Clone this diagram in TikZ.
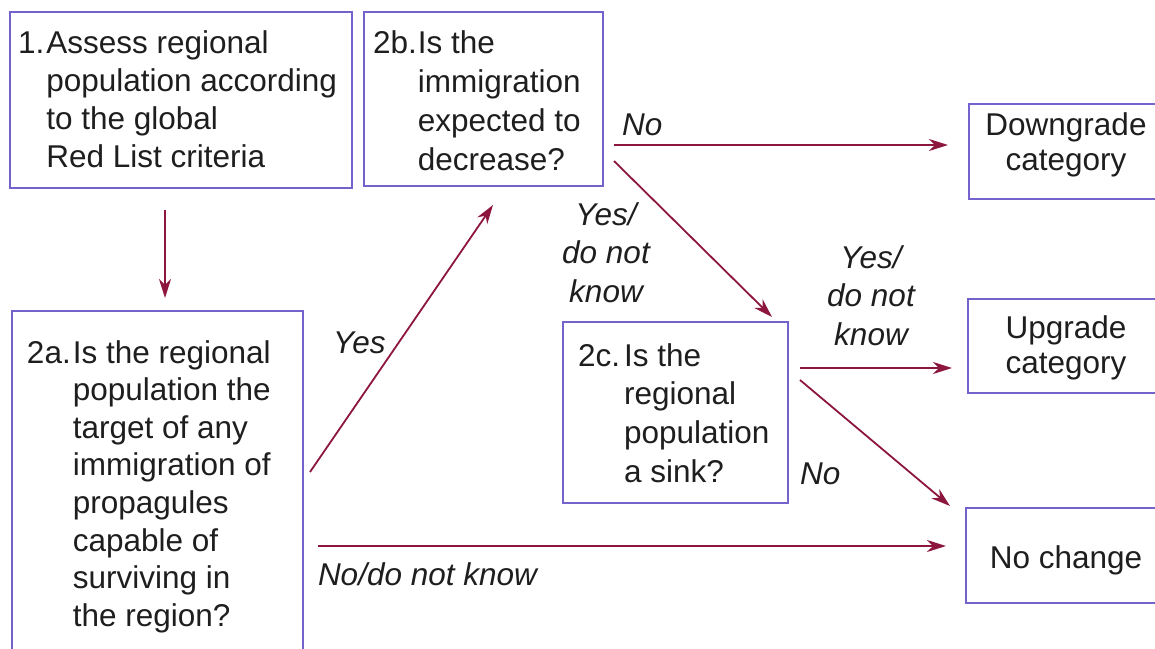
\documentclass[tikz,border=0pt]{standalone}
\usepackage{fontspec}
\setmainfont{Liberation Sans}
\usetikzlibrary{arrows.meta,calc}
\definecolor{boxc}{RGB}{118,98,205}
\definecolor{arrc}{RGB}{140,22,62}
\definecolor{txtc}{RGB}{30,30,30}
\tikzset{
  boxn/.style={draw=boxc, line width=2.2pt, inner sep=0pt, outer sep=0pt, anchor=north west},
  arr/.style={draw=arrc, line width=1.8pt, -{Stealth[length=19pt,width=12pt,inset=6pt]}},
  txt/.style={inner sep=0pt, outer sep=0pt, text=txtc},
  lbl/.style={inner sep=0pt, outer sep=0pt, text=txtc, font=\fontsize{31.5pt}{38.5pt}\selectfont\itshape}
}
\begin{document}
\begin{tikzpicture}[x=1pt,y=-1pt]
\useasboundingbox (0,0) rectangle (1155,648);
\clip (0,0) rectangle (1155,648);
% boxes
\node[boxn, minimum width=342pt, minimum height=176pt] (b1) at (10,12) {};
\node[boxn, minimum width=239pt, minimum height=174pt] (b2b) at (364,12) {};
\node[boxn, minimum width=291pt, minimum height=360pt] (b2a) at (12,311) {};
\node[boxn, minimum width=225pt, minimum height=181pt] (b2c) at (563,322) {};
\node[boxn, minimum width=194pt, minimum height=95pt] (bdown) at (969,104) {};
\node[boxn, minimum width=195pt, minimum height=94pt] (bup) at (968,299) {};
\node[boxn, minimum width=197pt, minimum height=95pt] (bno) at (966,508) {};
% box texts
\node[txt, anchor=base west, font=\fontsize{31.5pt}{38pt}\selectfont] (t1) at (18,53)
  {\begin{tabular}[t]{@{}l@{\hspace{2pt}}l@{}}1.&Assess regional\\ &population according\\ &to the global\\ &Red List criteria\end{tabular}};
\node[txt, anchor=base west, font=\fontsize{31.5pt}{39pt}\selectfont] (t2b) at (373,53)
  {\begin{tabular}[t]{@{}l@{\hspace{1pt}}l@{}}2b.&Is the\\ &immigration\\ &expected to\\ &decrease?\end{tabular}};
\node[txt, anchor=base west, font=\fontsize{31.5pt}{37.6pt}\selectfont] (t2a) at (27,363)
  {\begin{tabular}[t]{@{}l@{\hspace{2pt}}l@{}}2a.&Is the regional\\ &population the\\ &target of any\\ &immigration of\\ &propagules\\ &capable of\\ &surviving in\\ &the region?\end{tabular}};
\node[txt, anchor=base west, font=\fontsize{31.5pt}{38.8pt}\selectfont] (t2c) at (578,366)
  {\begin{tabular}[t]{@{}l@{\hspace{4pt}}l@{}}2c.&Is the\\ &regional\\ &population\\ &a sink?\end{tabular}};
\node[txt, anchor=base, font=\fontsize{31.5pt}{35pt}\selectfont] (tdown) at (1066,135)
  {\begin{tabular}[t]{@{}c@{}}Downgrade\\category\end{tabular}};
\node[txt, anchor=base, font=\fontsize{31.5pt}{35pt}\selectfont] (tup) at (1066,338)
  {\begin{tabular}[t]{@{}c@{}}Upgrade\\category\end{tabular}};
\node[txt, anchor=base, font=\fontsize{31.5pt}{35pt}\selectfont] (tno) at (1066,568) {No change};
% connectors
\draw[arr] ($(b1.south west)+(155,22)$) -- ($(b2a.north west)+(153,-13)$);
\draw[arr] ($(b2a.north east)+(7,161)$) -- ($(b2b.south west)+(129,19)$);
\draw[arr] ($(b2b.north east)+(11,133)$) -- ($(bdown.south west)+(-21,-54)$);
\draw[arr] ($(b2b.south east)+(11,-25)$) -- ($(b2c.north east)+(-16,-5)$);
\draw[arr] ($(b2c.north east)+(12,46)$) -- ($(bup.north west)+(-16,69)$);
\draw[arr] ($(b2c.north east)+(12,58)$) -- ($(bno.north west)+(-16,-2)$);
\draw[arr] ($(b2a.north east)+(15,235)$) -- ($(bno.north west)+(-20,38)$);
% labels
\node[lbl, anchor=base west] (lno1) at (622,135) {No};
\node[lbl, anchor=base] (lyes1) at (606,225) {\begin{tabular}[t]{@{}c@{}}Yes/\\do not\\know\end{tabular}};
\node[lbl, anchor=base west] (lyes) at (333,353) {Yes};
\node[lbl, anchor=base] (lyes2) at (871,268) {\begin{tabular}[t]{@{}c@{}}Yes/\\do not\\know\end{tabular}};
\node[lbl, anchor=base west] (lno2) at (800,484) {No};
\node[lbl, anchor=base west] (lnodk) at (318,585) {No/do not know};
\end{tikzpicture}
\end{document}
